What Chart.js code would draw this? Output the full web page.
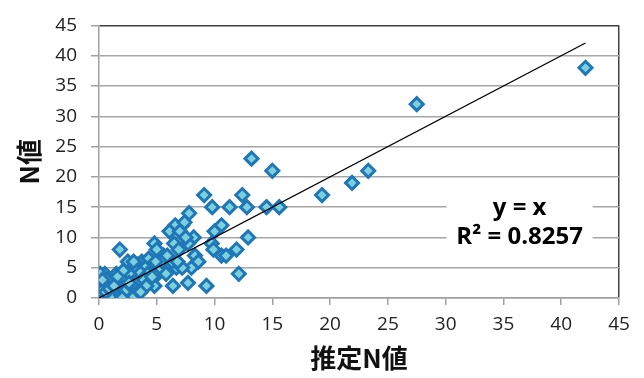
<!DOCTYPE html>
<html>
<head>
<meta charset="utf-8">
<script src="https://cdn.jsdelivr.net/npm/chart.js@4.4.1/dist/chart.umd.min.js"></script>
<style>
  body { margin: 0; background: #fff; }
  #chart { display: block; }
</style>
</head>
<body>
<canvas id="chart" width="644" height="378"></canvas>
<script>
const estN = [
  42.1, 27.5, 23.3, 21.9, 19.3, 15.6, 14.5, 15.0, 13.2, 12.4, 9.1, 12.8, 11.3, 9.8,
  7.8, 7.2, 6.6, 7.4, 10.6, 10.0, 6.1, 7.0, 8.2, 12.9, 4.8, 6.5, 7.7, 9.75,
  1.8, 5.0, 9.9, 11.9, 8.3, 10.6, 11.0, 5.6, 6.9, 2.5, 3.7, 4.3, 3.3, 4.5,
  6.1, 6.7, 8.0, 7.2, 0.5, 3.1, 5.1, 12.1, 2.0, 4.3, 6.4, 7.7, 9.3, 3.7,
  4.8, 2.8, 1.1, 0.0,
  0.3, 0.5, 0.8, 1.0, 1.3, 1.5, 1.7, 2.0, 2.2, 2.5, 1.2, 0.7, 1.8, 2.3,
  2.7, 3.0, 3.2, 3.5, 3.8, 4.0, 4.2, 3.4, 2.9, 2.6, 1.5, 1.0, 0.2, 0.6,
  1.6, 2.4, 3.3, 3.9, 4.6, 5.3, 5.5, 4.9, 5.8, 6.3, 2.1, 1.4, 0.9, 1.9,
  2.9, 0.4, 3.0, 0.1, 5.9, 6.8, 7.5, 8.6, 4.1, 3.6,
  0.6, 1.2, 1.9, 2.6, 0.9, 1.6, 2.2, 0.3, 1.3, 2.0
];
const measN = [
  38, 32, 21, 19, 17, 15, 15, 21, 23, 17, 17, 15, 15, 15,
  14, 12, 12, 12.5, 12, 11, 11, 11, 10, 10, 9, 9, 9, 9,
  8, 8, 8, 8, 7, 7, 7, 7, 8, 6, 6, 6.5, 5.5, 5,
  5, 5, 5, 5, 4, 4, 4, 4, 3, 3, 2, 2.5, 2, 2,
  2, 1, 0, 1,
  0.5, 0, 1, 2, 1, 0, 1, 0, 2, 1, 3, 3, 2, 3,
  2, 3, 2, 3, 4, 5, 4, 4.5, 5, 4, 4, 0, 2, 2,
  2.5, 0.5, 1, 3, 3.5, 5, 6, 6, 4, 6, 4.5, 0.3, 0.3, 1.5,
  0, 1.5, 6, 4, 7, 6, 10, 6, 2, 1,
  1, 0, 0.5, 2.5, 1.5, 3.5, 1, 3, 2, 0
];
const trendX = [0, 42.1];
const ticks = [0, 5, 10, 15, 20, 25, 30, 35, 40, 45];
const eqText = ['y = x', 'R² = 0.8257'];

const points = estN.map((x, i) => ({ x: x, y: measN[i] }));
const trend = trendX.map(v => ({ x: v, y: v }));

const labelFont = { family: 'Open Sans', size: 19 };
const titleFont = { family: 'Noto Sans CJK JP', size: 26, weight: 'bold' };

// equation label with white box over the gridlines
const eqPlugin = {
  id: 'eqLabel',
  afterDatasetsDraw(chart) {
    const ctx = chart.ctx;
    const xs = chart.scales.x, ys = chart.scales.y;
    const cx = xs.getPixelForValue(36.4);
    ctx.save();
    ctx.font = 'bold 24px "Open Sans"';
    ctx.textAlign = 'center';
    ctx.textBaseline = 'middle';
    const rows = [ys.getPixelForValue(14.9), ys.getPixelForValue(10)];
    ctx.fillStyle = '#fff';
    ctx.fillRect(cx - 73, rows[0] - 15, 146, rows[1] - rows[0] + 30);
    ctx.fillStyle = '#000';
    eqText.forEach((t, i) => ctx.fillText(t, cx, rows[i]));
    ctx.restore();
  }
};

new Chart(document.getElementById('chart'), {
  type: 'scatter',
  data: {
    datasets: [{
      type: 'line',
      data: trend,
      borderColor: '#000',
      borderWidth: 1.3,
      pointRadius: 0,
      fill: false
    }, {
      data: points,
      pointStyle: 'rectRot',
      pointRadius: 6.5,
      pointHoverRadius: 6.5,
      backgroundColor: '#7bd0dc',
      borderColor: '#1f77b8',
      borderWidth: 3
    }]
  },
  options: {
    responsive: false,
    devicePixelRatio: 1,
    animation: false,
    layout: { padding: { top: 19, right: 25, left: 0, bottom: 0 } },
    plugins: { legend: { display: false }, tooltip: { enabled: false } },
    scales: {
      x: {
        type: 'linear',
        min: 0, max: 45,
        afterBuildTicks: s => { s.ticks = ticks.map(v => ({ value: v })); },
        afterFit: s => { s.height = 80; },
        ticks: { font: labelFont, color: '#222', padding: 8, maxRotation: 0 },
        grid: {
          color: c => (c.tick && c.tick.value === 45) ? '#404040' : 'rgba(0,0,0,0)',
          tickColor: '#a0a0a0',
          tickLength: 7,
          lineWidth: 1.5
        },
        border: { color: '#a0a0a0', width: 1.5 },
        title: { display: true, text: '推定N値', font: titleFont, color: '#111', padding: { top: 0, bottom: 4 } }
      },
      y: {
        min: 0, max: 45,
        afterBuildTicks: s => { s.ticks = ticks.map(v => ({ value: v })); },
        afterFit: s => { s.width = 99; },
        ticks: { font: labelFont, color: '#222', padding: 14 },
        grid: {
          color: c => (c.tick && c.tick.value === 45) ? '#404040' : '#a6a6a6',
          tickColor: '#a0a0a0',
          tickLength: 8,
          lineWidth: 1.5
        },
        border: { color: '#a0a0a0', width: 1.5 },
        title: { display: true, text: 'N値', font: titleFont, color: '#111', padding: { top: 14, bottom: 0 } }
      }
    }
  },
  plugins: [eqPlugin]
});
</script>
</body>
</html>
